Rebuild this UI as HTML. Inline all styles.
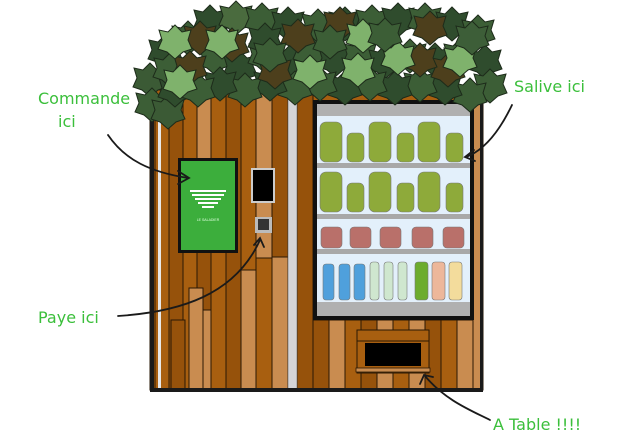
<!DOCTYPE html>
<html><head><meta charset="utf-8"><style>
html,body{margin:0;padding:0;background:#fff;}
svg{display:block}
.lbl{font-family:"Comic Sans MS","DejaVu Sans",sans-serif;fill:#3bbf3b;font-size:16px;}
</style></head><body>
<svg width="620" height="438" viewBox="0 0 620 438" xmlns="http://www.w3.org/2000/svg">
<defs>
<path id="leaf" d="M0,-17 L7,-10 L16,-12 L13,-2 L17,7 L8,10 L0,17 L-8,10 L-17,7 L-13,-2 L-16,-12 L-7,-10 Z" stroke="#1d2b1a" stroke-width="1"/>
</defs>
<g stroke="#2a1804" stroke-width="1">
<rect x="150" y="88" width="333" height="302" fill="#a85f10"/>
<rect x="155" y="90" width="14" height="300" fill="#a85f10"/>
<rect x="169" y="90" width="14" height="300" fill="#96520b"/>
<rect x="183" y="90" width="14" height="300" fill="#a85f10"/>
<rect x="197" y="90" width="14" height="300" fill="#c98c50"/>
<rect x="197" y="250" width="14" height="60" fill="#96520b"/>
<rect x="211" y="90" width="15" height="300" fill="#a85f10"/>
<rect x="226" y="90" width="15" height="300" fill="#96520b"/>
<rect x="241" y="90" width="15" height="300" fill="#a85f10"/>
<rect x="241" y="270" width="15" height="120" fill="#c98c50"/>
<rect x="256" y="90" width="16" height="300" fill="#c98c50"/>
<rect x="256" y="258" width="16" height="132" fill="#a85f10"/>
<rect x="272" y="90" width="16" height="300" fill="#96520b"/>
<rect x="272" y="257" width="16" height="133" fill="#c98c50"/>
<rect x="189" y="288" width="14" height="102" fill="#c98c50"/>
<rect x="171" y="320" width="14" height="70" fill="#96520b"/>
<rect x="297" y="90" width="16" height="300" fill="#96520b"/>
<rect x="313" y="320" width="16" height="70" fill="#96520b"/>
<rect x="329" y="320" width="16" height="70" fill="#c98c50"/>
<rect x="345" y="320" width="16" height="70" fill="#a85f10"/>
<rect x="361" y="320" width="16" height="70" fill="#96520b"/>
<rect x="377" y="320" width="16" height="70" fill="#c98c50"/>
<rect x="393" y="320" width="16" height="70" fill="#a85f10"/>
<rect x="409" y="320" width="16" height="70" fill="#c98c50"/>
<rect x="425" y="320" width="16" height="70" fill="#96520b"/>
<rect x="441" y="320" width="16" height="70" fill="#a85f10"/>
<rect x="457" y="320" width="16" height="70" fill="#c98c50"/>
<rect x="473" y="90" width="8" height="300" fill="#c98c50"/>
<rect x="313" y="88" width="160" height="14" fill="#a85f10"/>
</g>
<rect x="288" y="90" width="9" height="300" fill="#d5d5d8" stroke="#555" stroke-width="0.5"/>
<rect x="158" y="118" width="3" height="272" fill="#e8e8e8"/>
<rect x="150" y="88" width="4" height="304" fill="#1a1a1a"/>
<rect x="480" y="88" width="3" height="304" fill="#1a1a1a"/>
<rect x="150" y="388" width="333" height="4" fill="#1a1a1a"/>
<rect x="313" y="100" width="161" height="220" fill="#111"/>
<rect x="317" y="104" width="153" height="212" fill="#e3f0fb"/>
<rect x="317" y="104" width="153" height="12" fill="#b0b0b0"/>
<rect x="317" y="163" width="153" height="5" fill="#a8a8a8"/>
<rect x="317" y="214" width="153" height="5" fill="#a8a8a8"/>
<rect x="317" y="249" width="153" height="5" fill="#a8a8a8"/>
<rect x="317" y="302" width="153" height="14" fill="#b0b0b0"/>
<g stroke="#777" stroke-width="0.6">
<g fill="#8eaa3a">
<rect x="320" y="122" width="22" height="40" rx="6"/><rect x="347" y="133" width="17" height="29" rx="5"/>
<rect x="369" y="122" width="22" height="40" rx="6"/><rect x="397" y="133" width="17" height="29" rx="5"/>
<rect x="418" y="122" width="22" height="40" rx="6"/><rect x="446" y="133" width="17" height="29" rx="5"/>
<rect x="320" y="172" width="22" height="40" rx="6"/><rect x="347" y="183" width="17" height="29" rx="5"/>
<rect x="369" y="172" width="22" height="40" rx="6"/><rect x="397" y="183" width="17" height="29" rx="5"/>
<rect x="418" y="172" width="22" height="40" rx="6"/><rect x="446" y="183" width="17" height="29" rx="5"/>
</g>
<g fill="#b9706a">
<rect x="321" y="227" width="21" height="21" rx="4"/><rect x="350" y="227" width="21" height="21" rx="4"/>
<rect x="380" y="227" width="21" height="21" rx="4"/><rect x="412" y="227" width="21" height="21" rx="4"/>
<rect x="443" y="227" width="21" height="21" rx="4"/>
</g>
<g fill="#4fa0dc"><rect x="323" y="264" width="11" height="36" rx="3"/><rect x="339" y="264" width="11" height="36" rx="3"/><rect x="354" y="264" width="11" height="36" rx="3"/></g>
<g fill="#cfe7cf"><rect x="370" y="262" width="9" height="38" rx="3"/><rect x="384" y="262" width="9" height="38" rx="3"/><rect x="398" y="262" width="9" height="38" rx="3"/></g>
<rect x="415" y="262" width="13" height="38" rx="3" fill="#6cac2e"/>
<rect x="432" y="262" width="13" height="38" rx="3" fill="#edb79a"/>
<rect x="449" y="262" width="13" height="38" rx="3" fill="#f3dc9c"/>
</g>
<rect x="178" y="158" width="60" height="95" fill="#111"/>
<rect x="181" y="161" width="54" height="89" fill="#3cae3c"/>
<g fill="#fff"><rect x="190" y="190" width="36" height="2"/><rect x="192" y="194" width="32" height="2"/><rect x="195" y="198" width="26" height="2"/><rect x="198" y="202" width="20" height="2"/><rect x="202" y="206" width="12" height="2"/></g>
<text x="208" y="221" font-size="3.5" fill="#dfd" text-anchor="middle" font-family="Liberation Sans,sans-serif">LE SALADIER</text>
<rect x="251" y="168" width="24" height="35" fill="#ccc"/>
<rect x="253" y="170" width="20" height="31" fill="#000"/>
<rect x="255" y="217" width="17" height="16" fill="#bbb"/>
<rect x="258" y="219" width="11" height="11" fill="#333"/>
<rect x="357" y="330" width="72" height="43" fill="#a85f10" stroke="#2a1804"/>
<rect x="357" y="330" width="72" height="11" fill="#a85f10" stroke="#2a1804"/>
<rect x="365" y="343" width="56" height="23" fill="#000"/>
<rect x="356" y="368" width="74" height="4" fill="#c98c50" stroke="#2a1804" stroke-width="0.8"/>
<!-- ivy -->
<g fill="#3c5e36">
<use href="#leaf" x="210" y="22" fill="#2f4c2d"/><use href="#leaf" x="236" y="18" fill="#4a6b3e"/><use href="#leaf" x="262" y="20"/>
<use href="#leaf" x="288" y="24" fill="#2f4c2d"/><use href="#leaf" x="318" y="26"/><use href="#leaf" x="345" y="24" fill="#2f4c2d"/>
<use href="#leaf" x="372" y="22"/><use href="#leaf" x="398" y="20" fill="#2f4c2d"/><use href="#leaf" x="425" y="20"/>
<use href="#leaf" x="452" y="24" fill="#2f4c2d"/><use href="#leaf" x="478" y="32"/><use href="#leaf" x="188" y="38"/>
<use href="#leaf" x="165" y="52" fill="#2f4c2d"/><use href="#leaf" x="150" y="80" fill="#3b5a35"/><use href="#leaf" x="152" y="105"/>
<use href="#leaf" x="168" y="112" fill="#3b5a35"/><use href="#leaf" x="175" y="90" fill="#2f4c2d"/>
<use href="#leaf" x="190" y="68" fill="#4d3f1c"/><use href="#leaf" x="170" y="70" fill="#3c5e36"/>
<use href="#leaf" x="215" y="58"/><use href="#leaf" x="240" y="68" fill="#2f4c2d"/><use href="#leaf" x="265" y="56" fill="#3d5e38"/>
<use href="#leaf" x="290" y="62" fill="#2f4c2d"/><use href="#leaf" x="310" y="52"/><use href="#leaf" x="335" y="60" fill="#2f4c2d"/>
<use href="#leaf" x="360" y="56"/><use href="#leaf" x="385" y="62" fill="#2f4c2d"/><use href="#leaf" x="410" y="56"/>
<use href="#leaf" x="435" y="60" fill="#2f4c2d"/><use href="#leaf" x="460" y="56"/><use href="#leaf" x="485" y="62" fill="#2f4c2d"/>
<use href="#leaf" x="490" y="86"/><use href="#leaf" x="470" y="95" fill="#3c5e36"/><use href="#leaf" x="445" y="88" fill="#2f4c2d"/>
<use href="#leaf" x="420" y="85"/><use href="#leaf" x="395" y="88" fill="#2f4c2d"/><use href="#leaf" x="370" y="84"/>
<use href="#leaf" x="345" y="88" fill="#2f4c2d"/><use href="#leaf" x="320" y="84"/><use href="#leaf" x="295" y="88" fill="#3c5e36"/>
<use href="#leaf" x="270" y="84" fill="#2f4c2d"/><use href="#leaf" x="245" y="90"/><use href="#leaf" x="220" y="84" fill="#2f4c2d"/>
<use href="#leaf" x="198" y="90"/>
<use href="#leaf" x="200" y="38" fill="#4d3f1c"/><use href="#leaf" x="265" y="40" fill="#2f4c2d"/>
<use href="#leaf" x="232" y="45" fill="#4d3f1c"/><use href="#leaf" x="298" y="36" fill="#4d3f1c"/><use href="#leaf" x="340" y="24" fill="#4d3f1c"/>
<use href="#leaf" x="430" y="28" fill="#4d3f1c"/><use href="#leaf" x="448" y="70" fill="#4d3f1c"/><use href="#leaf" x="190" y="68" fill="#4d3f1c"/>
<use href="#leaf" x="275" y="72" fill="#4d3f1c"/><use href="#leaf" x="420" y="60" fill="#4d3f1c"/>
<use href="#leaf" x="175" y="42" fill="#7fb26c"/><use href="#leaf" x="222" y="42" fill="#7fb26c"/><use href="#leaf" x="310" y="72" fill="#7fb26c"/>
<use href="#leaf" x="363" y="36" fill="#7fb26c"/><use href="#leaf" x="398" y="58" fill="#7fb26c"/><use href="#leaf" x="358" y="70" fill="#7fb26c"/>
<use href="#leaf" x="460" y="60" fill="#7fb26c"/><use href="#leaf" x="180" y="82" fill="#7fb26c"/><use href="#leaf" x="270" y="55" fill="#3c5e36"/>
<use href="#leaf" x="385" y="35" fill="#3c5e36"/><use href="#leaf" x="472" y="38" fill="#3d5e38"/><use href="#leaf" x="330" y="42" fill="#3c5e36"/>
</g>
<text class="lbl" x="38" y="104">Commande</text>
<text class="lbl" x="58" y="127">ici</text>
<text class="lbl" x="514" y="92">Salive ici</text>
<text class="lbl" x="38" y="323">Paye ici</text>
<text class="lbl" x="493" y="430">A Table !!!!</text>
<g fill="none" stroke="#1a1a1a" stroke-width="1.8" stroke-linecap="round">
<path d="M108,135 C125,160 150,172 188,178"/><path d="M178,171 L189,178 L178,184"/>
<path d="M512,105 C500,130 485,150 466,157"/><path d="M474,150 L465,157 L475,161"/>
<path d="M118,316 C180,312 235,295 260,240"/><path d="M254,245 L260,238 L264,247"/>
<path d="M490,420 C470,410 445,400 425,376"/><path d="M420,384 L424,375 L433,377"/>
</g>
</svg>
</body></html>
